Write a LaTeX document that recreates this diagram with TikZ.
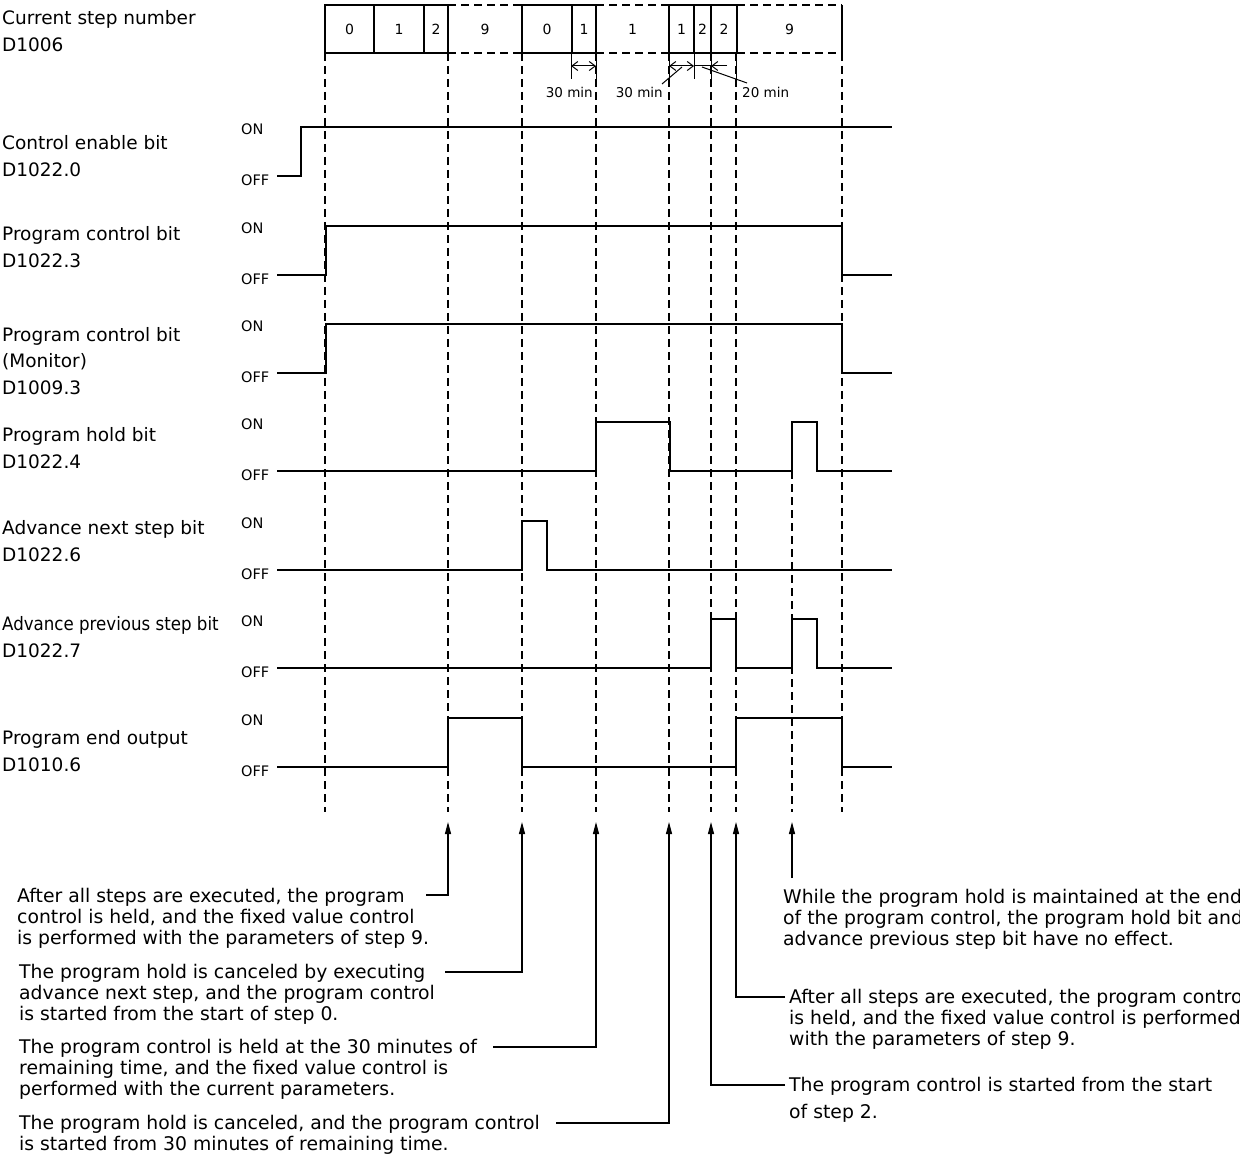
\documentclass[tikz,border=0pt]{standalone}
\usepackage{fontspec}
\setmainfont{DejaVu Sans}
\newfontfamily\condfont{DejaVu Sans}[FakeStretch=0.9]
\usetikzlibrary{arrows.meta}
\begin{document}
\begin{tikzpicture}[x=1pt,y=-1pt,
  sig/.style={line width=2.2pt, line join=miter},
  guide/.style={line width=1.6pt, dash pattern=on 8pt off 5pt},
  boxline/.style={line width=2.2pt},
  dboxline/.style={line width=2.2pt, dash pattern=on 8pt off 5pt},
  tick/.style={line width=1pt},
  lbl/.style={font=\fontsize{18.5}{27}\selectfont, align=left, anchor=north west, inner sep=0pt},
  onoff/.style={font=\fontsize{14.5}{16}\selectfont, anchor=west, inner sep=0pt},
  dig/.style={font=\fontsize{14}{16}\selectfont, inner sep=0pt},
  dimtxt/.style={font=\fontsize{13.5}{15}\selectfont, inner sep=0pt},
  note/.style={font=\fontsize{18.8}{21.2}\selectfont, align=left, anchor=north west, inner sep=0pt},
  dimarr/.style={line width=1pt, {Straight Barb[length=6pt,width=9pt]}-{Straight Barb[length=6pt,width=9pt]}},
  dimone/.style={line width=1pt, -{Straight Barb[length=6pt,width=9pt]}},
  callout/.style={line width=1.2pt, -{Triangle[length=12pt,width=6pt]}},
]
\useasboundingbox (0,0) rectangle (1240,1158);

% ---------- left labels ----------
\node[lbl] (lcur) at (2,10) {Current step number\\D1006};
\node[lbl] (len) at (2,135) {Control enable bit\\D1022.0};
\node[lbl] (lpc) at (2,226) {Program control bit\\D1022.3};
\node[lbl, font=\fontsize{18.5}{26.5}\selectfont] (lmon) at (2,327) {Program control bit\\(Monitor)\\D1009.3};
\node[lbl] (lhold) at (2,427) {Program hold bit\\D1022.4};
\node[lbl] (lnext) at (2,520) {Advance next step bit\\D1022.6};
\node[lbl] (lprev) at (2,616) {{\condfont Advance previous step bit}\\D1022.7};
\node[lbl] (lend) at (2,730) {Program end output\\D1010.6};

% ---------- ON / OFF labels ----------
\foreach \on/\nm in {127/a,226/b,324/c,422/d,521/e,619/f,718/g}{
  \node[onoff] (on\nm) at (241,\on+2) {ON};
  \node[onoff] (off\nm) at (241,\on+53) {OFF};
}

% ---------- step number boxes ----------
\draw[boxline] (325,5) rectangle (448,53);
\draw[boxline] (374,5) -- (374,53) (424,5) -- (424,53);
\draw[dboxline] (448,5) -- (522,5) (448,53) -- (522,53);
\draw[boxline] (522,5) rectangle (596,53);
\draw[boxline] (572,5) -- (572,53);
\draw[dboxline] (596,5) -- (669,5) (596,53) -- (669,53);
\draw[boxline] (669,5) rectangle (737,53);
\draw[boxline] (694,5) -- (694,53) (711,5) -- (711,53);
\draw[dboxline] (737,5) -- (842,5) (737,53) -- (842,53);
\draw[boxline] (842,5) -- (842,53);

\node[dig] (s1) at (349.5,29) {0};
\node[dig] (s2) at (399,29) {1};
\node[dig] (s3) at (436,29) {2};
\node[dig] (s4) at (485,29) {9};
\node[dig] (s5) at (547,29) {0};
\node[dig] (s6) at (584,29) {1};
\node[dig] (s7) at (632.5,29) {1};
\node[dig] (s8) at (681.5,29) {1};
\node[dig] (s9) at (702.5,29) {2};
\node[dig] (s10) at (724,29) {2};
\node[dig] (s11) at (789.5,29) {9};

% ---------- dashed guide lines ----------
\foreach \x in {325,448,522,596,669,711,736,842}{
  \draw[guide] (\x,53) -- (\x,812);
}
\draw[guide] (792,471) -- (792,812);

% ---------- dimension marks ----------
\foreach \x in {571,596,669,694,711,736}{
  \draw[tick] (\x,53) -- (\x,79);
}
\draw[dimarr] (571,66) -- (596,66);
\draw[dimarr] (669,66) -- (694,66);
\draw[tick] (694,66) -- (711,66);
\draw[dimone] (727,66) -- (711,66);

\node[dimtxt, anchor=east] (m1) at (593,92) {30 min};
\node[dimtxt, anchor=east] (m2) at (663,92) {30 min};
\node[dimtxt, anchor=west] (m3) at (742,92) {20 min};
\coordinate (m2a) at (662,84);
\coordinate (m2b) at (682,67);
\coordinate (m3a) at (702,67);
\coordinate (m3b) at (747,83);
\draw[tick] (m2a) -- (m2b);
\draw[tick] (m3a) -- (m3b);

% ---------- waveforms ----------
\draw[sig] (277,176) -- (301,176) -- (301,127) -- (892,127);
\draw[sig] (277,275) -- (326,275) -- (326,226) -- (842,226) -- (842,275) -- (892,275);
\draw[sig] (277,373) -- (326,373) -- (326,324) -- (842,324) -- (842,373) -- (892,373);
\draw[sig] (277,471) -- (596,471) -- (596,422) -- (670,422) -- (670,471) -- (792,471) -- (792,422) -- (817,422) -- (817,471) -- (892,471);
\draw[sig] (277,570) -- (522,570) -- (522,521) -- (547,521) -- (547,570) -- (892,570);
\draw[sig] (277,668) -- (711,668) -- (711,619) -- (736,619) -- (736,668) -- (792,668) -- (792,619) -- (817,619) -- (817,668) -- (892,668);
\draw[sig] (277,767) -- (448,767) -- (448,718) -- (522,718) -- (522,767) -- (736,767) -- (736,718) -- (842,718) -- (842,767) -- (892,767);

% ---------- notes ----------
\node[note] (t1) at (17,888) {After all steps are executed, the program\\control is held, and the fixed value control\\is performed with the parameters of step 9.};
\node[note] (t2) at (19,964) {The program hold is canceled by executing\\advance next step, and the program control\\is started from the start of step 0.};
\node[note] (t3) at (19,1039) {The program control is held at the 30 minutes of\\remaining time, and the fixed value control is\\performed with the current parameters.};
\node[note] (t4) at (19,1115) {The program hold is canceled, and the program control\\is started from 30 minutes of remaining time.};
\node[note] (r1) at (783,889) {While the program hold is maintained at the end\\of the program control, the program hold bit and\\advance previous step bit have no effect.};
\node[note] (r2) at (789,989) {After all steps are executed, the program control\\is held, and the fixed value control is performed\\with the parameters of step 9.};
\node[note] (r3) at (789,1077) {The program control is started from the start\\[6pt]of step 2.};

% ---------- callout arrows ----------
\coordinate (tipA) at (448,822);
\coordinate (tipB) at (522,822);
\coordinate (tipC) at (596,822);
\coordinate (tipD) at (669,822);
\coordinate (tipE) at (711,822);
\coordinate (tipF) at (736,822);
\coordinate (tipG) at (792,822);
\coordinate (legA) at (426,895);
\coordinate (legB) at (445,972);
\coordinate (legC) at (493,1047);
\coordinate (legD) at (556,1123);
\coordinate (legE) at (785,1085);
\coordinate (legF) at (785,997);
\coordinate (legG) at (792,878);
\draw[callout] (legA) -| (tipA);
\draw[callout] (legB) -| (tipB);
\draw[callout] (legC) -| (tipC);
\draw[callout] (legD) -| (tipD);
\draw[callout] (legE) -| (tipE);
\draw[callout] (legF) -| (tipF);
\draw[callout] (legG) -- (tipG);
\end{tikzpicture}
\end{document}
